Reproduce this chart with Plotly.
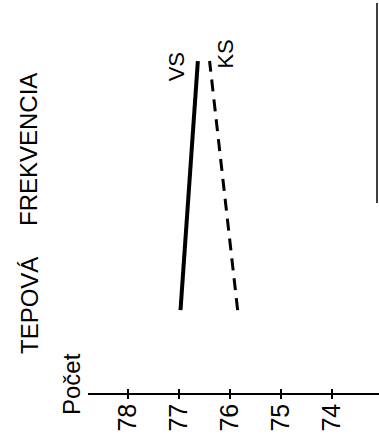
import plotly.graph_objects as go

# Data
time_points = [0, 1]            # start, end (vertical direction in the rotated chart)
vs_values = [76.97, 76.63]      # VS, solid line
ks_values = [75.85, 76.40]      # KS, dashed line
tick_vals = [78, 77, 76, 75, 74]
tick_text = ["78", "77", "76", "75", "74"]
series_names = ["VS", "KS"]

FONT = "Liberation Sans"
W, H = 379, 437
L, R, T, B = 88, 0, 0, 44

fig = go.Figure()
fig.add_trace(go.Scatter(x=vs_values, y=time_points, mode="lines",
                         line=dict(color="black", width=4), name=series_names[0],
                         showlegend=False))
fig.add_trace(go.Scatter(x=ks_values, y=time_points, mode="lines",
                         line=dict(color="black", width=3, dash="12px,8px"),
                         name=series_names[1], showlegend=False))
# empty trace so the overlay axis (inner half of cross ticks) is drawn
fig.add_trace(go.Scatter(x=[None], y=[None], xaxis="x2", showlegend=False,
                         hoverinfo="skip"))

xr = [78.784, 73.078]
fig.update_layout(
    width=W, height=H,
    margin=dict(l=L, r=R, t=T, b=B),
    paper_bgcolor="white", plot_bgcolor="white",
    font=dict(family=FONT, color="black"),
    xaxis=dict(range=xr, tickvals=tick_vals, ticktext=tick_text,
               tickangle=-90, tickfont=dict(size=25, family=FONT),
               ticklabelstandoff=-5,
               showline=True, linecolor="black", linewidth=1.5,
               ticks="outside", ticklen=4, tickwidth=1.5, tickcolor="black",
               showgrid=False, zeroline=False, fixedrange=True),
    xaxis2=dict(range=xr, overlaying="x", anchor="y", side="bottom",
                tickvals=tick_vals, showticklabels=False,
                ticks="inside", ticklen=4, tickwidth=1.5, tickcolor="black",
                showline=False, showgrid=False, zeroline=False),
    yaxis=dict(range=[-0.333, 1.245], visible=False, showgrid=False,
               zeroline=False, fixedrange=True),
    showlegend=False,
)

def px_x(px):
    return (px - L) / (W - L - R)

def px_y(py):
    return (H - B - py) / (H - B - T)

annotations = [
    dict(text="FREKVENCIA", x=px_x(28), y=px_y(150), xref="paper", yref="paper",
         textangle=-90, showarrow=False, font=dict(size=24, family=FONT),
         xanchor="center", yanchor="middle"),
    dict(text="TEPOVÁ", x=px_x(29), y=px_y(306), xref="paper", yref="paper",
         textangle=-90, showarrow=False, font=dict(size=24, family=FONT),
         xanchor="center", yanchor="middle"),
    dict(text="Počet", x=px_x(71), y=px_y(384), xref="paper", yref="paper",
         textangle=-90, showarrow=False, font=dict(size=24, family=FONT),
         xanchor="center", yanchor="middle"),
    dict(text=series_names[0], x=vs_values[1], y=time_points[1], xref="x", yref="y",
         xshift=-21.5, yshift=-6, textangle=-90, showarrow=False,
         font=dict(size=22, family=FONT), xanchor="center", yanchor="middle"),
    dict(text=series_names[1], x=ks_values[1], y=time_points[1], xref="x", yref="y",
         xshift=15, yshift=7, textangle=-90, showarrow=False,
         font=dict(size=22, family=FONT), xanchor="center", yanchor="middle"),
]
fig.update_layout(annotations=annotations)

fig.add_shape(type="line", xref="paper", yref="paper",
              x0=px_x(377), x1=px_x(377), y0=px_y(203), y1=px_y(3),
              line=dict(color="black", width=1.5))

fig.write_html("out.html")
